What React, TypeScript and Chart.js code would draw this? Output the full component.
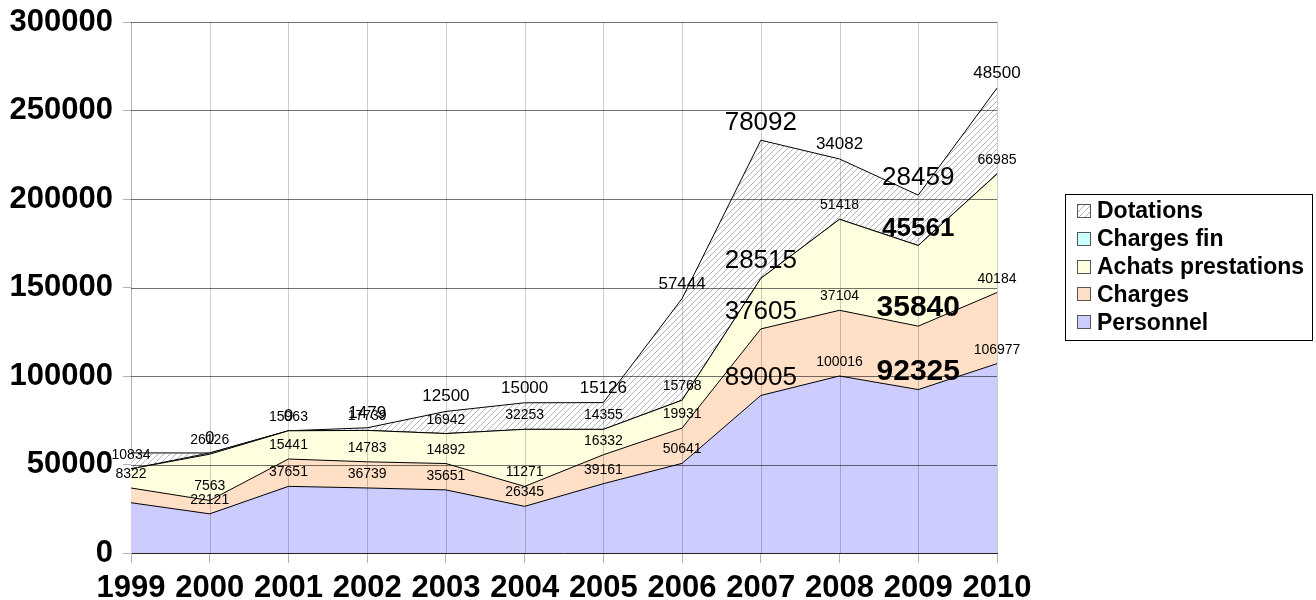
import React, { useEffect, useRef } from 'react';
import { Chart, registerables } from 'chart.js';
Chart.register(...registerables);

// ---- data ----
const years = ['1999', '2000', '2001', '2002', '2003', '2004', '2005', '2006', '2007', '2008', '2009', '2010'];
const personnel = [28400, 22121, 37651, 36739, 35651, 26345, 39161, 50641, 89005, 100016, 92325, 106977];
const charges = [8322, 7563, 15441, 14783, 14892, 11271, 16332, 19931, 37605, 37104, 35840, 40184];
const achats = [10834, 26126, 15963, 17739, 16942, 32253, 14355, 15768, 28515, 51418, 45561, 66985];
const chargesFin = [0, 700, 0, 0, 0, 0, 0, 0, 0, 0, 0, 0];
const dotations = [9000, 0, 0, 1479, 12500, 15000, 15126, 57444, 78092, 34082, 28459, 48500];
const yTickValues = [0, 50000, 100000, 150000, 200000, 250000, 300000];

// ---- label styles (which labels show, and how) ----
const personnelLbl = ['', 's', 's', 's', 's', 's', 's', 's', 'L', 's', 'B', 's'];
const chargesLbl = ['s', 's', 's', 's', 's', 's', 's', 's', 'L', 's', 'B', 's'];
const achatsLbl = ['s', 's', 's', 's', 's', 's', 's', 's', 'L', 's', 'b', 's'];
const finLbl = ['', '', '', '', '', '', '', '', '', '', '', ''];
const dotLbl = ['', 'm', 'm', 'm', 'm', 'm', 'm', 'm', 'L', 'm', 'L', 'm'];

const FAMILY = "'Liberation Sans', Arial, sans-serif";
const fontFor: Record<string, string> = {
  s: `14px ${FAMILY}`,
  m: `17px ${FAMILY}`,
  L: `26px ${FAMILY}`,
  b: `bold 26px ${FAMILY}`,
  B: `bold 30px ${FAMILY}`,
};

export default function App() {
  const ref = useRef<HTMLCanvasElement>(null);

  useEffect(() => {
    const canvas = ref.current!;
    const pc = document.createElement('canvas');
    pc.width = 6;
    pc.height = 6;
    const pctx = pc.getContext('2d')!;
    pctx.fillStyle = '#ffffff';
    pctx.fillRect(0, 0, 6, 6);
    pctx.strokeStyle = '#b4b4b4';
    pctx.lineWidth = 1;
    pctx.beginPath();
    pctx.moveTo(0, 6); pctx.lineTo(6, 0);
    pctx.moveTo(-3, 3); pctx.lineTo(3, -3);
    pctx.moveTo(3, 9); pctx.lineTo(9, 3);
    pctx.stroke();
    const hatch = canvas.getContext('2d')!.createPattern(pc, 'repeat')!;

    const series = [
      { label: 'Personnel', data: personnel, color: '#ccccff', lbl: personnelLbl },
      { label: 'Charges', data: charges, color: '#ffdfc6', lbl: chargesLbl },
      { label: 'Achats prestations', data: achats, color: '#ffffe0', lbl: achatsLbl },
      { label: 'Charges fin', data: chargesFin, color: '#ccffff', lbl: finLbl },
      { label: 'Dotations', data: dotations, color: hatch as any, lbl: dotLbl },
    ];

    const overlay = {
      id: 'overlay',
      afterDatasetsDraw(chart: any) {
        const { ctx, chartArea: a, scales } = chart;
        const x = scales.x;
        const y = scales.y;
        ctx.save();
        ctx.lineWidth = 1;
        ctx.strokeStyle = 'rgba(0,0,0,0.2)';
        for (let i = 1; i < years.length; i++) {
          const px = Math.round(x.getPixelForValue(i)) + 0.5;
          ctx.beginPath();
          ctx.moveTo(px, a.top);
          ctx.lineTo(px, a.bottom);
          ctx.stroke();
        }
        ctx.strokeStyle = 'rgba(0,0,0,0.55)';
        for (const v of yTickValues) {
          if (v === 0) continue;
          const py = Math.round(y.getPixelForValue(v)) + 0.5;
          ctx.beginPath();
          ctx.moveTo(a.left, py);
          ctx.lineTo(a.right, py);
          ctx.stroke();
        }
        // data labels
        ctx.fillStyle = '#000';
        ctx.textAlign = 'center';
        ctx.textBaseline = 'alphabetic';
        series.forEach((s, di) => {
          const meta = chart.getDatasetMeta(di);
          s.lbl.forEach((st, i) => {
            if (!st) return;
            const pt = meta.data[i];
            ctx.font = fontFor[st];
            ctx.fillText(String(s.data[i]), pt.x, pt.y - 10);
          });
        });
        ctx.restore();
      },
      afterDraw(chart: any) {
        const { ctx } = chart;
        ctx.save();
        ctx.strokeStyle = '#000';
        ctx.lineWidth = 1;
        ctx.strokeRect(1065.5, 194.5, 247, 146);
        const items = [...series].reverse();
        items.forEach((s, i) => {
          const cy = 211 + i * 27.8;
          ctx.fillStyle = s.color as any;
          ctx.fillRect(1077, Math.round(cy - 7), 14, 14);
          ctx.strokeStyle = '#555';
          ctx.strokeRect(1077.5, Math.round(cy - 7) + 0.5, 13, 13);
          ctx.fillStyle = '#000';
          ctx.font = `bold 23px ${FAMILY}`;
          ctx.textAlign = 'left';
          ctx.textBaseline = 'middle';
          ctx.fillText(s.label, 1097, cy + 1);
        });
        ctx.restore();
      },
    };

    const chart = new Chart(canvas, {
      type: 'line',
      data: {
        labels: years,
        datasets: series.map((s, i) => ({
          label: s.label,
          data: s.data,
          backgroundColor: s.color,
          borderColor: '#000000',
          borderWidth: 1,
          pointRadius: 0,
          tension: 0,
          fill: i === 0 ? 'origin' : '-1',
        })),
      },
      options: {
        responsive: false,
        animation: false,
        layout: { padding: { left: 0, right: 319, top: 22, bottom: 0 } },
        plugins: {
          legend: { display: false },
          tooltip: { enabled: false },
          title: { display: false },
        },
        scales: {
          x: {
            offset: false,
            grid: { drawOnChartArea: false, tickLength: 10, color: '#b3b3b3' },
            border: { color: '#222' },
            ticks: {
              color: '#000',
              font: { family: FAMILY, size: 31, weight: 'bold' },
              padding: 7,
              autoSkip: false,
              maxRotation: 0,
            },
            afterFit: (scale: any) => { scale.height = 47; },
          },
          y: {
            stacked: true,
            min: 0,
            max: 300000,
            afterBuildTicks: (scale: any) => { scale.ticks = yTickValues.map((v) => ({ value: v })); },
            grid: { drawOnChartArea: false, tickLength: 8, color: '#b3b3b3' },
            border: { color: '#b3b3b3' },
            ticks: {
              color: '#000',
              font: { family: FAMILY, size: 31, weight: 'bold', lineHeight: 0.75 },
              padding: 10,
              callback: (v: any) => String(v),
            },
            afterFit: (scale: any) => { scale.width = 131; },
          },
        },
      },
      plugins: [overlay],
    });
    return () => chart.destroy();
  }, []);

  return (
    <div style={{ position: 'absolute', left: 0, top: 0, width: 1316, height: 600, background: '#fff' }}>
      <canvas ref={ref} width={1316} height={600} style={{ display: 'block' }} />
    </div>
  );
}
